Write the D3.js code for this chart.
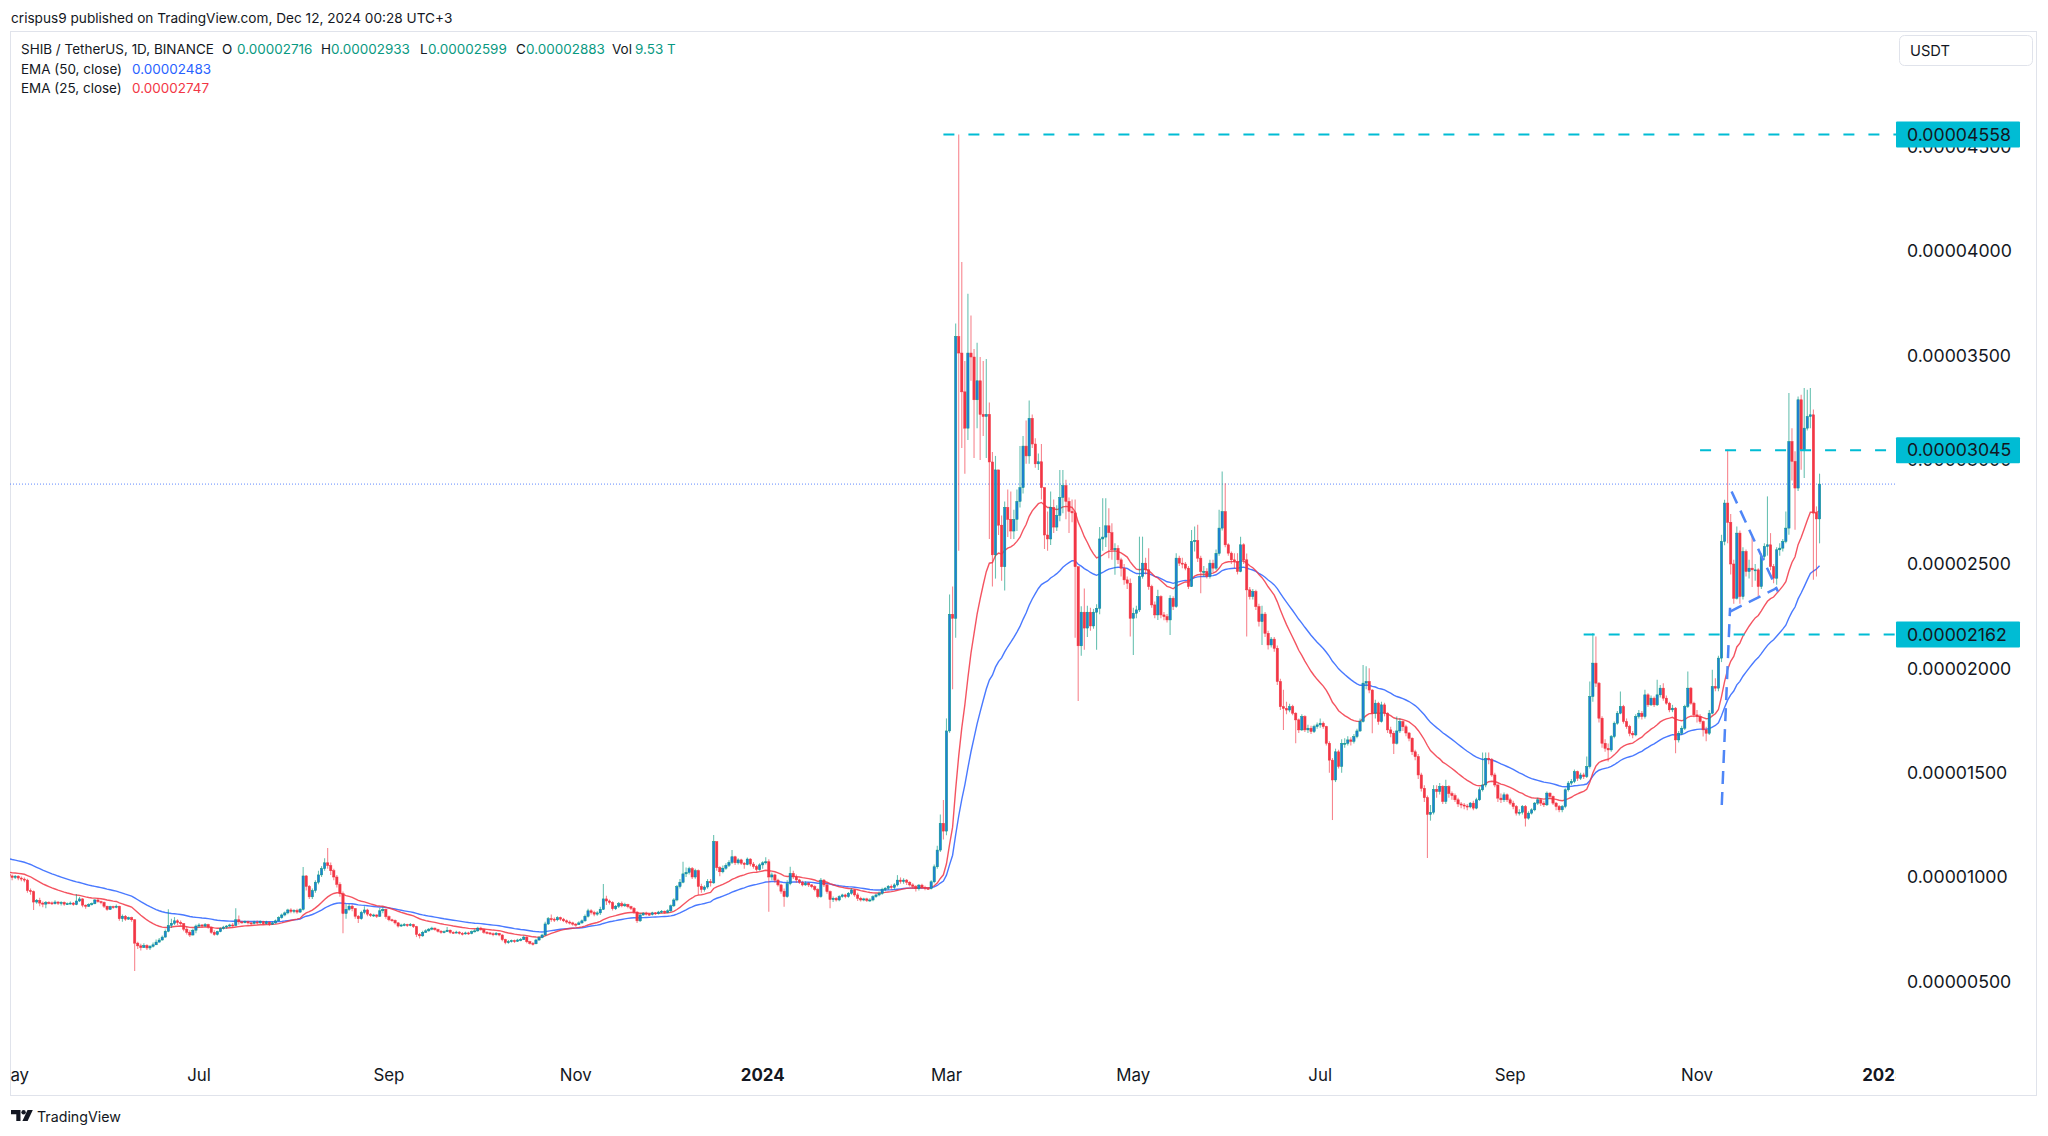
<!DOCTYPE html>
<html><head><meta charset="utf-8">
<script src="https://cdn.jsdelivr.net/npm/d3@7"></script>
<style>
html,body{margin:0;padding:0;background:#fff;}
svg{display:block;font-family:Inter,"Noto Sans",Roboto,sans-serif;}
</style></head><body>
<svg id="chart" width="2048" height="1136"></svg>
<script>
// ---------------- DATA (prices in units of 1e-8 USDT) ----------------
const priceUnit = 1e-8;
const startDate = "2023-04-30";   // first daily candle
const firstOpen = 1012;           // open of the first candle (later opens = prior close)
const closes = [
 1005,
 998,1004,995,990,985,935,930,880,888,875,870,878,876,872,880,874,878,870,872,875,868,885,895,865,860,868,872,890,882,878,860,
 845,858,855,860,800,812,798,805,795,683,670,662,672,660,668,675,688,698,712,740,768,778,790,782,776,750,735,722,745,765,
 770,765,772,760,735,725,738,752,760,765,770,768,795,785,782,786,780,778,784,780,786,776,784,774,780,790,805,818,828,842,835,
 840,832,845,1005,955,905,935,975,1010,1040,1068,1055,1030,1000,965,920,825,845,860,848,812,800,830,842,822,815,818,812,838,845,810,
 795,792,780,765,770,772,768,772,762,725,718,735,742,750,755,748,740,735,738,745,735,733,736,730,728,732,730,738,742,755,
 748,735,732,728,724,730,722,700,686,690,695,692,698,700,712,690,682,680,698,710,722,775,800,798,795,805,798,790,784,780,774,
 772,780,790,812,838,830,822,828,845,895,885,878,848,860,872,862,868,858,850,832,790,818,826,822,820,828,824,832,836,830,
 838,862,890,954,975,1015,1022,1040,1000,1030,955,940,952,978,972,1169,1045,1025,1042,1056,1070,1097,1068,1082,1066,1060,1086,1062,1050,1036,1058,
 1068,1073,1000,1010,985,962,932,906,968,1017,1000,986,975,962,970,962,954,940,906,985,962,930,892,898,890,906,914,906,922,938,914,
 898,890,895,888,890,906,914,922,940,946,955,950,962,985,978,985,975,962,955,945,961,950,946,945,977,1049,1129,1257,1220,
 1700,2259,2240,3590,3511,3325,3151,3511,3492,3287,3378,3217,3207,3217,2989,2544,2951,2686,2487,2771,2714,2658,2714,2800,2866,3065,3018,3198,3075,2980,2990,
 2866,2639,2620,2771,2677,2733,2819,2876,2800,2752,2745,2487,2108,2269,2193,2269,2203,2269,2288,2620,2629,2683,2650,2568,2575,2520,2480,2424,2408,2240,
 2264,2280,2440,2504,2472,2392,2304,2256,2344,2256,2248,2232,2336,2296,2528,2504,2500,2480,2392,2608,2612,2528,2464,2464,2440,2504,2480,2551,2672,2751,2592,
 2552,2520,2512,2464,2592,2520,2376,2344,2368,2296,2224,2260,2168,2112,2140,2096,1937,1816,1808,1800,1816,1785,1753,1705,1769,1705,1713,1697,1721,1729,
 1737,1721,1641,1560,1465,1600,1530,1640,1641,1657,1650,1673,1700,1745,1929,1937,1896,1785,1833,1745,1825,1785,1705,1689,1641,1700,1745,1720,1690,1665,1600,
 1577,1489,1425,1380,1300,1310,1420,1410,1434,1362,1434,1400,1390,1370,1350,1345,1340,1336,1354,1330,1370,1418,1441,1569,1562,1489,1441,1378,1370,1394,1370,
 1354,1338,1306,1310,1338,1282,1306,1322,1354,1370,1354,1346,1402,1386,1354,1338,1322,1338,1418,1450,1458,1505,1473,1489,1481,1529,1865,2025,1929,1761,
 1641,1617,1609,1673,1737,1785,1817,1745,1721,1689,1681,1769,1785,1769,1873,1825,1857,1825,1873,1905,1857,1833,1801,1809,1657,1689,1713,1817,1905,1833,1777,
 1769,1745,1705,1689,1785,1913,1905,2049,2608,2792,2700,2500,2336,2648,2344,2560,2464,2480,2472,2472,2392,2536,2584,2592,2488,2432,2568,2576,2608,2672,
 3087,2992,2864,3287,3047,3151,3207,3215,2744,2716,2883
];
const highs = [
 1018,
 1012,1010,1008,1002,998,992,945,935,895,900,882,885,884,882,888,884,884,882,878,882,880,918,905,898,868,874,878,895,898,886,882,
 862,862,862,868,862,820,818,810,810,798,690,680,682,678,674,686,700,708,720,748,845,800,808,798,792,780,760,745,752,772,
 778,775,780,776,762,745,742,758,766,770,776,780,850,815,790,792,790,786,790,792,792,790,790,786,786,796,812,825,835,848,850,
 846,848,852,1048,1010,962,945,985,1030,1052,1090,1139,1070,1040,1010,975,930,870,872,868,852,818,838,860,848,828,824,822,852,856,848,
 815,800,796,784,776,780,776,780,776,766,732,742,750,756,762,758,752,746,744,760,748,740,742,740,736,738,738,744,750,762,
 762,752,740,736,734,736,732,726,704,698,700,700,704,708,720,716,694,688,704,716,728,786,808,820,806,812,810,804,796,792,786,
 780,788,796,820,848,846,838,836,858,966,910,892,884,866,880,882,876,872,862,856,836,826,832,834,828,834,832,838,842,840,
 845,868,898,962,990,1073,1045,1049,1048,1040,1036,968,960,990,990,1201,1170,1052,1055,1066,1080,1129,1102,1090,1088,1072,1094,1090,1072,1058,1066,
 1075,1095,1085,1022,1015,992,968,945,985,1049,1030,1012,992,982,980,976,966,960,946,995,990,968,935,906,904,912,920,920,928,946,942,
 925,905,900,900,898,912,920,930,948,952,962,964,970,1009,998,994,990,980,970,962,966,968,958,952,985,1060,1150,1300,1369,
 1760,2354,2392,3653,4558,3947,3473,3795,3691,3530,3560,3492,3473,3482,3274,3037,3018,2951,2733,2800,2857,2847,2760,2857,3065,3113,3188,3283,3217,3103,3030,
 3075,2866,2752,2847,2809,2781,2951,2951,2904,2819,2809,2809,2468,2297,2383,2300,2290,2285,2307,2677,2815,2815,2767,2695,2600,2590,2530,2500,2440,2430,
 2290,2300,2631,2631,2530,2575,2400,2320,2376,2350,2270,2260,2350,2345,2552,2540,2530,2510,2490,2663,2680,2688,2540,2490,2480,2520,2520,2570,2760,2943,2887,
 2600,2560,2552,2552,2631,2600,2550,2390,2380,2376,2310,2300,2270,2180,2150,2150,2110,1950,1897,1840,1830,1825,1790,1760,1780,1775,1730,1725,1730,1740,
 1760,1745,1725,1650,1570,1615,1610,1660,1665,1675,1670,1685,1710,1760,2016,2010,2000,1900,1850,1840,1840,1835,1790,1720,1700,1769,1761,1750,1730,1695,1670,
 1610,1590,1500,1440,1390,1345,1440,1440,1450,1440,1466,1440,1410,1400,1380,1360,1355,1350,1360,1365,1380,1430,1597,1597,1597,1570,1500,1445,1400,1405,1400,
 1380,1365,1345,1325,1345,1345,1315,1330,1360,1380,1378,1365,1410,1405,1390,1360,1345,1345,1425,1460,1470,1515,1510,1500,1500,1577,1937,2169,2153,1935,
 1770,1660,1640,1680,1745,1795,1889,1825,1760,1730,1700,1780,1800,1795,1897,1880,1870,1865,1945,1920,1929,1870,1840,1825,1815,1700,1725,1825,1985,1910,1840,
 1800,1780,1750,1720,1800,1993,1953,2060,2640,2808,3047,2740,2520,2680,2660,2580,2570,2520,2630,2500,2480,2550,2600,2824,2648,2500,2580,2600,2620,2752,
 3319,3150,3040,3303,3311,3343,3335,3343,3240,2776,2933
];
const lows = [
 996,
 985,990,985,980,975,925,915,842,872,860,855,850,870,866,868,866,864,862,866,868,862,865,880,855,848,856,864,870,876,870,852,
 838,842,848,850,790,785,790,795,785,549,655,648,660,650,650,662,676,686,696,710,735,755,770,770,768,740,725,712,720,730,
 758,755,760,752,728,718,720,735,748,752,760,758,765,772,776,778,772,768,774,772,776,770,772,766,770,776,788,800,812,822,826,
 826,824,828,840,935,895,895,925,965,1000,1030,1040,1010,985,950,905,731,800,838,836,800,780,795,822,812,808,808,804,808,826,800,
 788,786,772,758,760,764,760,764,756,712,705,714,732,738,745,742,734,728,730,736,728,727,730,724,720,724,722,726,734,738,
 742,728,726,722,716,720,716,692,678,680,686,684,688,692,698,682,676,672,678,694,706,718,770,786,784,788,790,784,776,772,766,
 762,770,776,786,806,820,812,814,818,842,866,868,840,842,852,855,856,850,842,824,779,784,814,816,814,816,818,820,826,824,
 826,832,856,884,945,970,1000,1012,990,992,914,925,930,944,955,968,1030,1004,1018,1035,1048,1062,1058,1060,1058,1040,1056,1052,1040,1026,1030,
 1040,1060,834,985,972,955,920,858,900,960,990,972,966,955,958,952,946,932,898,900,952,920,850,880,882,884,900,898,900,915,905,
 885,882,884,880,880,884,900,908,915,932,938,940,940,955,968,968,962,955,946,930,935,942,936,938,940,970,1040,1120,1180,
 1200,1691,1900,2146,2563,3056,2932,3094,3378,3008,3150,2999,3113,3008,2620,2392,2430,2639,2420,2373,2629,2620,2620,2658,2771,2838,2980,2980,3056,2961,2950,
 2809,2572,2563,2591,2648,2658,2705,2743,2714,2648,2700,2146,1843,2060,2089,2150,2180,2190,2089,2259,2563,2582,2527,2520,2448,2500,2440,2400,2380,2152,
 2064,2240,2270,2430,2450,2376,2290,2240,2232,2240,2230,2220,2160,2280,2290,2490,2480,2470,2380,2390,2560,2510,2360,2440,2430,2430,2460,2470,2540,2660,2580,
 2540,2500,2480,2450,2460,2500,2152,2330,2330,2280,2200,2112,2150,2090,2100,2080,1920,1800,1705,1780,1790,1775,1641,1690,1700,1695,1690,1685,1690,1710,
 1715,1710,1630,1500,1273,1455,1520,1500,1620,1630,1630,1640,1665,1695,1740,1900,1880,1689,1760,1730,1740,1770,1690,1670,1590,1635,1690,1700,1675,1650,1585,
 1560,1470,1410,1360,1091,1270,1300,1380,1395,1350,1350,1380,1370,1360,1335,1330,1325,1320,1330,1320,1325,1365,1410,1430,1540,1480,1430,1360,1355,1360,1360,
 1345,1325,1295,1295,1300,1242,1275,1300,1315,1345,1340,1335,1340,1375,1345,1320,1310,1310,1330,1410,1440,1450,1460,1465,1470,1475,1520,1840,1910,1740,
 1620,1600,1553,1600,1665,1730,1780,1735,1710,1675,1665,1675,1760,1755,1760,1815,1820,1815,1820,1860,1845,1825,1790,1790,1593,1645,1680,1705,1810,1825,1765,
 1740,1735,1673,1650,1680,1780,1890,1890,2030,2590,2600,2450,2310,2330,2310,2330,2440,2430,2390,2420,2344,2380,2520,2540,2470,2408,2400,2540,2560,2600,
 2640,2900,2664,2850,2952,2912,3140,3150,2424,2440,2599
];
// EMA values at the left edge of the picture (indicator warm-up)
const ema50Seed = 1091;
const ema25Seed = 1024;

// Axis ticks
const priceTicks = [500,1000,1500,2000,2500,3000,3500,4000,4500];
const timeTicks = [
 ["2023-05-01","May",false],["2023-07-01","Jul",false],["2023-09-01","Sep",false],["2023-11-01","Nov",false],
 ["2024-01-01","2024",true],["2024-03-01","Mar",false],["2024-05-01","May",false],["2024-07-01","Jul",false],
 ["2024-09-01","Sep",false],["2024-11-01","Nov",false],["2025-01-01","2025",true]
];
// Horizontal levels drawn by the author (start date, price)
const levelStarts = ["2024-02-29","2024-11-02","2024-09-25"];
const levelValues = [4558,3045,2162];
// Flag drawing (blue dashed): [start, end] as [ISO time, price]
const flagSegments = [
 [["2024-11-09T02:00Z",1345],["2024-11-11T19:00Z",2290]],
 [["2024-11-12T07:00Z",2847],["2024-11-27T10:00Z",2368]],
 [["2024-11-11T19:00Z",2272],["2024-11-27T02:00Z",2385]]
];
const headerText = "crispus9 published on TradingView.com, Dec 12, 2024 00:28 UTC+3";
const symbolText = "SHIB / TetherUS, 1D, BINANCE";
const ohlcLabels = ["O","H","L","C","Vol"];
const ohlcValues = ["0.00002716","0.00002933","0.00002599","0.00002883","9.53 T"];
const emaLabels = ["EMA (50, close)","EMA (25, close)"];
const emaValues = ["0.00002483","0.00002747"];
const currencyText = "USDT";
const lastPrice = 2883;

// ---------------- LAYOUT / STYLE ----------------
const pane = {left:10, right:1896, top:32, bottom:1055};
const C = {text:"#131722", green:"#089981", red:"#f23645", blue:"#2962ff",
           upBody:"#1f7fd6", cyan:"#00bcd4", border:"#e0e3eb"};
const svg = d3.select("#chart");
const DAY = 86400000;
const t0 = Date.parse(startDate + "T00:00:00Z");
const candles = closes.map((c,i)=>({
  date:new Date(t0 + i*DAY), o: i ? closes[i-1] : firstOpen, h: highs[i], l: lows[i], c
}));

const x = d3.scaleUtc()
  .domain([new Date(Date.UTC(2023,6,1)), new Date(Date.UTC(2024,10,1))])
  .range([199,1697]);
const y = d3.scaleLinear().domain([1000,4000]).range([877,251]);

function ema(values, n, seed){
  const a = 2/(n+1); let prev = seed;
  return values.map(v => (prev = a*v + (1-a)*prev));
}
const ema50 = ema(closes,50,ema50Seed);
const ema25 = ema(closes,25,ema25Seed);

function fitFont(sel, target){
  const w = sel.node().getComputedTextLength();
  const fs = parseFloat(sel.attr("font-size"));
  return fs*target/w;
}
function probeSize(str, base, target, weight){
  const t = svg.append("text").attr("font-size",base).attr("font-weight",weight||400).text(str);
  const fs = fitFont(t, target); t.remove(); return fs;
}
const fsHeader = probeSize(headerText, 14, 442);
const fsLegend = probeSize(symbolText, 14, 193);
const fsPrice = probeSize("0.00004000", 18, 105);
const fsTime = probeSize("Nov", 18, 32);
const fsLogo = probeSize("TradingView", 15, 84);
const fsCur = probeSize(currencyText, 16, 40);

// defs
const defs = svg.append("defs");
defs.append("clipPath").attr("id","paneClip").append("rect")
  .attr("x",pane.left).attr("y",pane.top).attr("width",pane.right-pane.left).attr("height",pane.bottom-pane.top);
defs.append("clipPath").attr("id","timeClip").append("rect")
  .attr("x",pane.left).attr("y",pane.bottom).attr("width",pane.right-pane.left).attr("height",40);

// header
svg.append("text").attr("x",11).attr("y",18).attr("dy","0.35em")
  .attr("font-size",fsHeader).attr("fill",C.text).text(headerText);

// outer frame
svg.append("rect").attr("x",10.5).attr("y",31.5).attr("width",2026).attr("height",1064)
  .attr("fill","none").attr("stroke",C.border).attr("stroke-width",1);

// ---- pane contents ----
const g = svg.append("g").attr("clip-path","url(#paneClip)");

// last price dotted line
g.append("line").attr("x1",pane.left).attr("x2",pane.right)
  .attr("y1",y(lastPrice)).attr("y2",y(lastPrice))
  .attr("stroke",C.blue).attr("stroke-opacity",0.75).attr("stroke-width",1).attr("stroke-dasharray","1 2");

// EMA lines
const line = d3.line().x((d,i)=>x(candles[i].date)).y(d=>y(d));
g.append("path").datum(ema50).attr("d",line).attr("fill","none")
  .attr("stroke",C.blue).attr("stroke-opacity",0.85).attr("stroke-width",1.4);
g.append("path").datum(ema25).attr("d",line).attr("fill","none")
  .attr("stroke",C.red).attr("stroke-opacity",0.85).attr("stroke-width",1.4);

// candles
const bw = 2.3;
const cg = g.append("g");
cg.selectAll("line.wick").data(candles).join("line").attr("class","wick")
  .attr("x1",d=>x(d.date)).attr("x2",d=>x(d.date))
  .attr("y1",d=>y(Math.max(d.h,d.o,d.c))).attr("y2",d=>y(Math.min(d.l,d.o,d.c)))
  .attr("stroke",d=>d.c>=d.o?C.green:C.red).attr("stroke-opacity",0.6).attr("stroke-width",1.1);
cg.selectAll("rect.body").data(candles).join("rect").attr("class","body")
  .attr("x",d=>x(d.date)-bw/2).attr("width",bw)
  .attr("y",d=>y(Math.max(d.o,d.c)))
  .attr("height",d=>Math.max(1,Math.abs(y(d.o)-y(d.c))))
  .attr("fill",d=>d.c>=d.o?C.upBody:C.red)
  .attr("stroke",d=>d.c>=d.o?C.green:C.red).attr("stroke-width",0.5);

// level lines
levelValues.forEach((v,i)=>{
  g.append("line").attr("x1",x(new Date(levelStarts[i]+"T00:00:00Z"))).attr("x2",pane.right)
    .attr("y1",y(v)).attr("y2",y(v))
    .attr("stroke",C.cyan).attr("stroke-width",2).attr("stroke-dasharray","11 14");
});
// flag drawing
flagSegments.forEach(s=>{
  g.append("line")
    .attr("x1",x(new Date(s[0][0]))).attr("y1",y(s[0][1]))
    .attr("x2",x(new Date(s[1][0]))).attr("y2",y(s[1][1]))
    .attr("stroke","#4f86f7").attr("stroke-width",2.5).attr("stroke-dasharray","13 8");
});

// ---- legend ----
const lg = svg.append("g").attr("font-size",fsLegend);
const l1 = lg.append("text").attr("y",49).attr("dy","0.35em");
l1.append("tspan").attr("x",21).attr("fill",C.text).text(symbolText);
const labX = [222,321,420,516,612], valX = [237,331,428,526,635];
ohlcLabels.forEach((lab,i)=>{
  l1.append("tspan").attr("x",labX[i]).attr("fill",C.text).text(lab);
  l1.append("tspan").attr("x",valX[i]).attr("fill",C.green).text(ohlcValues[i]);
});
emaLabels.forEach((lab,i)=>{
  const t = lg.append("text").attr("y",69+i*19.5).attr("dy","0.35em");
  t.append("tspan").attr("x",21).attr("fill",C.text).text(lab);
  t.append("tspan").attr("x",132).attr("fill",i===0?C.blue:C.red).text(emaValues[i]);
});

// ---- price scale ----
const fmt = v => (v*priceUnit).toFixed(8);
const yAxis = d3.axisRight(y).tickValues(priceTicks).tickFormat(fmt).tickSize(0).tickPadding(0);
const ya = svg.append("g").attr("transform","translate(1907,0)").call(yAxis);
ya.select(".domain").remove();
ya.selectAll("text").attr("font-size",fsPrice).attr("fill",C.text).attr("font-family",null);
ya.attr("font-family",null);

// badges
levelValues.forEach(v=>{
  const cy = y(v);
  svg.append("rect").attr("x",1896).attr("y",cy-13).attr("width",124).attr("height",26)
    .attr("fill",C.cyan).attr("rx",1);
  svg.append("text").attr("x",1907).attr("y",cy).attr("dy","0.35em")
    .attr("font-size",fsPrice).attr("fill",C.text).text(fmt(v));
});

// currency box
svg.append("rect").attr("x",1899.5).attr("y",35.5).attr("width",133).attr("height",30).attr("rx",5)
  .attr("fill","#fff").attr("stroke",C.border);
svg.append("text").attr("x",1910).attr("y",51).attr("dy","0.35em")
  .attr("font-size",fsCur).attr("fill",C.text).text(currencyText);

// ---- time scale ----
const tg = svg.append("g").attr("clip-path","url(#timeClip)");
timeTicks.forEach(([d,lab,bold])=>{
  tg.append("text").attr("x",x(new Date(d+"T00:00:00Z"))).attr("y",1075).attr("dy","0.35em")
    .attr("text-anchor","middle").attr("font-size",fsTime)
    .attr("font-weight",bold?700:400).attr("fill",C.text).text(lab);
});

// ---- TradingView logo ----
const logo = svg.append("g").attr("fill",C.text);
logo.append("path").attr("d","M11,1110 h9.5 v11 h-4.2 v-6.8 h-5.3 z");
logo.append("circle").attr("cx",23.6).attr("cy",1112.3).attr("r",2.2);
logo.append("path").attr("d","M27.5,1110 h5.3 l-5.2,11 h-5.2 z");
svg.append("text").attr("x",37).attr("y",1117).attr("dy","0.35em")
  .attr("font-size",fsLogo).attr("fill",C.text).text("TradingView");
</script>
</body></html>
